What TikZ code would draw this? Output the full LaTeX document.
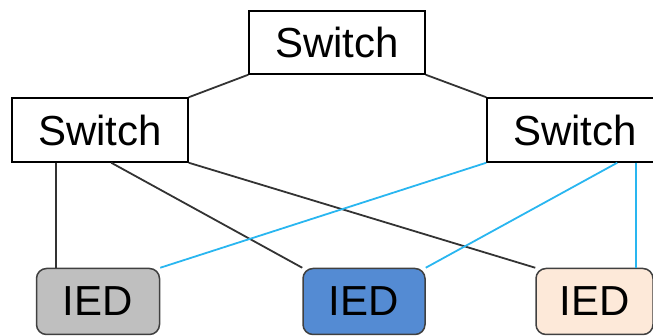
\documentclass[tikz,border=0pt]{standalone}
\usepackage{fontspec}
\setmainfont{Liberation Sans}
\usepackage{tikz}
\usetikzlibrary{positioning, calc}
\usepackage{xcolor}

\definecolor{linkcyan}{RGB}{41,182,240}
\definecolor{iedgray}{RGB}{191,191,191}
\definecolor{iedblue}{RGB}{84,139,211}
\definecolor{iedpeach}{RGB}{253,233,217}
\definecolor{iededge}{RGB}{64,64,64}

\tikzset{
  switchbox/.style={draw=black, line width=1.5pt, minimum width=176pt, minimum height=63pt,
    inner sep=0pt, font=\fontsize{42}{50}\selectfont},
  iedbox/.style={draw=iededge, line width=1.5pt, rounded corners=10pt, minimum width=123pt,
    minimum height=66pt, inner sep=0pt, font=\fontsize{42}{50}\selectfont},
  wire/.style={line width=1.8pt, black!80},
  cyanwire/.style={line width=1.8pt, linkcyan}
}

\begin{document}
\begin{tikzpicture}[x=1pt, y=-1pt]
  \useasboundingbox (0,0) rectangle (653,336);

  % Switches
  \node[switchbox] (topsw) at (337,42.5) {Switch};
  \node[switchbox, minimum height=64pt] (lsw) at (100,130) {Switch};
  \node[switchbox, minimum height=64pt] (rsw) at (575,130) {Switch};

  % IEDs
  \node[iedbox, fill=iedgray] (lied) at (98,301.5) {IED};
  \node[iedbox, fill=iedblue, minimum width=122pt] (mied) at (364,301.5) {IED};
  \node[iedbox, fill=iedpeach, minimum width=117pt] (ried) at (594.5,301.5) {IED};

  % Switch ring
  \draw[wire] (topsw.south west) -- (lsw.north east);
  \draw[wire] (topsw.south east) -- (rsw.north west);

  % Left switch links
  \draw[wire] ([xshift=45pt]lsw.south west) -- ([xshift=45pt]lsw.south west |- lied.north);
  \draw[wire] ([xshift=100pt]lsw.south west) -- (mied.north west);
  \draw[wire] (lsw.south east) -- (ried.north west);

  % Right switch links
  \draw[cyanwire] (rsw.south west) -- (lied.north east);
  \draw[cyanwire] ([xshift=131pt]rsw.south west) -- (mied.north east);
  \draw[cyanwire] ([xshift=150pt]rsw.south west) -- ([xshift=150pt]rsw.south west |- ried.north);
\end{tikzpicture}
\end{document}
